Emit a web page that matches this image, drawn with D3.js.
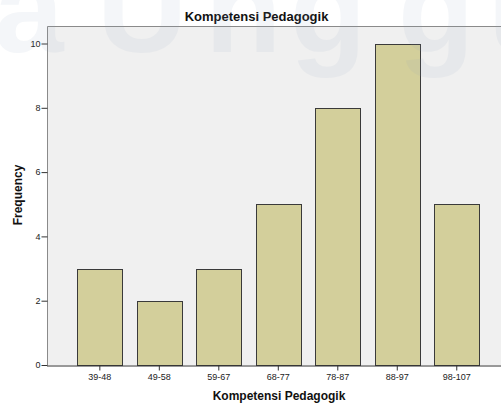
<!DOCTYPE html>
<html><head><meta charset="utf-8">
<script src="https://cdn.jsdelivr.net/npm/d3@7"></script>
<style>body{margin:0;background:#fff}svg{display:block}text{font-family:"Liberation Sans",Arial,sans-serif}</style>
</head><body>
<script>
const categories = ["39-48","49-58","59-67","68-77","78-87","88-97","98-107"];
const frequencies = [3,2,3,5,8,10,5];
const yTicks = [0,2,4,6,8,10];
const title = "Kompetensi Pedagogik";
const xTitle = "Kompetensi Pedagogik";
const yTitle = "Frequency";
const watermark = "aUnggu";

const W = 501, H = 403;
const pLeft = 47, pTop = 26, pBottom = 365, pRight = 509.6;
const svg = d3.select("body").append("svg").attr("width", W).attr("height", H);

svg.append("rect").attr("x", pLeft).attr("y", pTop).attr("width", W-pLeft).attr("height", pBottom-pTop).attr("fill", "#f0f0f0");

const x = d3.scaleBand().domain(categories).range([pLeft, pRight]).paddingInner(0.2437).paddingOuter(0.51);
const y = d3.scaleLinear().domain([0, 10]).range([pBottom, 43.5]);

svg.selectAll("rect.bar").data(frequencies).enter().append("rect")
  .attr("class","bar")
  .attr("x", (d,i) => Math.round(x(categories[i])) + 0.5)
  .attr("y", d => Math.round(y(d)) + 0.5)
  .attr("width", Math.round(x.bandwidth()))
  .attr("height", d => pBottom - Math.round(y(d)))
  .attr("fill", "#d3cf9b").attr("stroke", "#3a3a3a").attr("stroke-width", 1);

// frame
svg.append("path").attr("d", `M${pLeft+0.5},${pBottom} V${pTop+0.5} H${W}`).attr("fill","none").attr("stroke","#8a8a8a").attr("stroke-width",1);

const yAxis = d3.axisLeft(y).tickValues(yTicks).tickSize(6).tickPadding(1);
const gy = svg.append("g").attr("transform", `translate(${pLeft+0.5},0)`).call(yAxis);
gy.select(".domain").remove();
gy.selectAll("line").attr("stroke","#333");
gy.selectAll("text").attr("font-size", 9).attr("fill","#222");

const xAxis = d3.axisBottom(x).tickSize(5).tickPadding(3);
const gx = svg.append("g").attr("transform", `translate(0,${pBottom+0.5})`).call(xAxis);
gx.select(".domain").attr("d", `M${pLeft},0.5H${W}`).attr("stroke","#333");
gx.selectAll("line").attr("stroke","#333");
gx.selectAll("text").attr("font-size", 9).attr("fill","#222");

svg.append("text").attr("x", 256.5).attr("y", 21).attr("text-anchor","middle").attr("font-size", 13).attr("font-weight","bold").attr("fill","#111").text(title);
svg.append("text").attr("x", 279).attr("y", 400).attr("text-anchor","middle").attr("font-size", 12).attr("font-weight","bold").attr("fill","#111").text(xTitle);
svg.append("text").attr("transform","translate(22,195) rotate(-90)").attr("text-anchor","middle").attr("font-size", 12).attr("font-weight","bold").attr("fill","#111").text(yTitle);

// watermark overlay
svg.append("text").attr("x", "-6 97 205 290 398 488").attr("y", 52).attr("font-size", 125).attr("font-weight","bold")
  .attr("font-family","'DejaVu Sans',sans-serif")
  .attr("fill","#8aa0bf").attr("opacity", 0.09).text(watermark);
</script>
</body></html>
